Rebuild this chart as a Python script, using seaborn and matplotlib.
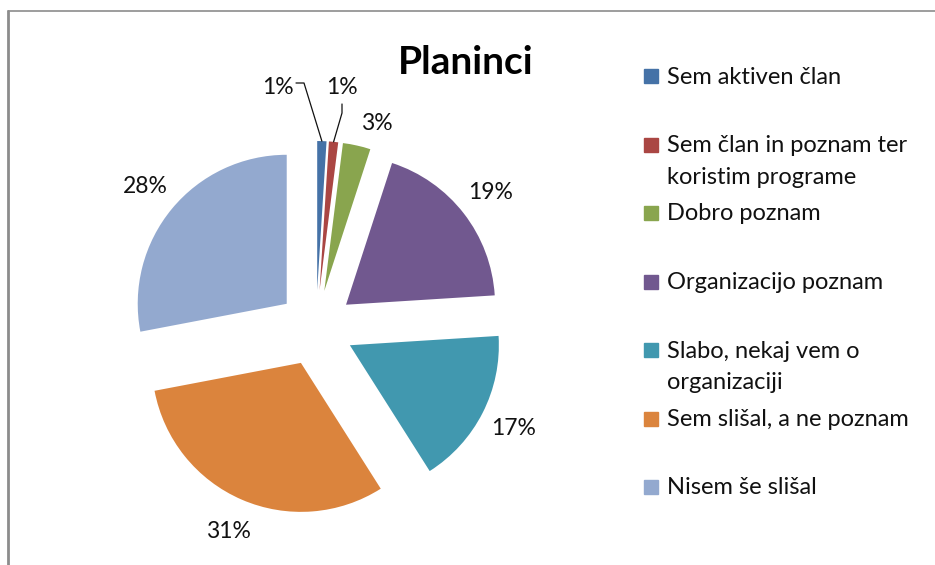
import numpy as np
import matplotlib
matplotlib.use("Agg")
from matplotlib import pyplot as plt
import seaborn as sns

categories = [
    "Sem aktiven član",
    "Sem član in poznam ter\nkoristim programe",
    "Dobro poznam",
    "Organizacijo poznam",
    "Slabo, nekaj vem o\norganizaciji",
    "Sem slišal, a ne poznam",
    "Nisem še slišal",
]
shares = [1, 1, 3, 19, 17, 31, 28]
colors = ["#4572A7", "#AA4643", "#89A54E", "#71588F", "#4198AF", "#DB843D", "#93A9CF"]
title = "Planinci"

sns.set_theme(style="white")
plt.rcParams["font.family"] = ["Lato", "DejaVu Sans"]

W, H = 935, 565
R = 149.0  # pie radius in pixels
cx, cy = 316, 328  # pie centre in pixels (from top)
explode = 0.255

fig = plt.figure(figsize=(W / 100, H / 100), dpi=100)
ax = fig.add_axes([0, 0, 1, 1])

palette = sns.color_palette(colors)
labels = [f"{v}%" for v in shares]
wedges, texts = ax.pie(
    shares,
    labels=labels,
    colors=palette,
    explode=[explode] * len(shares),
    startangle=90,
    counterclock=False,
    radius=1.0,
    labeldistance=1.23,
    textprops={"fontsize": 16.5, "color": "#111111"},
    wedgeprops={"linewidth": 0},
)
ax.set_xlim(-cx / R, (W - cx) / R)
ax.set_ylim(-(H - cy) / R, cy / R)
ax.set_aspect("equal")
ax.axis("off")


def px(x, y):
    # pixel position -> pie units
    return (x - cx) / R, (cy - y) / R


for t in texts:
    t.set_ha("center")
    t.set_va("center")

# small slices: labels moved by hand with leader lines
texts[0].set_position(px(278, 87))
texts[1].set_position(px(342, 87))
texts[2].set_position(px(377, 123))

angles = 90 - 360 * (np.cumsum(shares) - np.array(shares) / 2) / sum(shares)
for i, pts in [(0, [(296, 83), (304, 83)]), (1, [(342, 104), (342, 113)])]:
    th = np.deg2rad(angles[i])
    ex, ey = (1 + explode) * np.cos(th), (1 + explode) * np.sin(th)
    xs = [px(*p)[0] for p in pts] + [ex]
    ys = [px(*p)[1] for p in pts] + [ey]
    ax.plot(xs, ys, color="#111111", lw=0.9)

fig.text(398 / W, 1 - 63 / H, title, fontsize=28, fontweight="bold",
         ha="left", va="center", color="#000000")

# legend drawn by hand, Excel style (square aligned with first text line)
for i, (lab, col) in enumerate(zip(categories, palette)):
    y = 76 + i * 68.5
    fig.patches.append(plt.Rectangle((644 / W, 1 - (y + 7) / H), 14 / W, 14 / H,
                                     transform=fig.transFigure, color=col, figure=fig))
    fig.text(667 / W, 1 - (y - 9.5) / H, lab, fontsize=17, ha="left", va="top",
             color="#111111", linespacing=1.62)

# chart frame (top and left edges visible)
fig.add_artist(plt.Line2D([8 / W, 1], [1 - 11 / H, 1 - 11 / H], transform=fig.transFigure,
                          color="#8c8c8c", lw=1.2))
fig.add_artist(plt.Line2D([8 / W, 8 / W], [0, 1 - 11 / H], transform=fig.transFigure,
                          color="#8c8c8c", lw=2))

# clipped heading fragments above the frame (cut off in the original too)
fig.text(337 / W, 1 + 4 / H, "g", fontsize=16, fontweight="bold", ha="center", va="baseline")
fig.text(488 / W, 1 + 4 / H, "y", fontsize=16, fontweight="bold", ha="center", va="baseline")

fig.savefig("out.png", dpi=100)
plt.close(fig)
